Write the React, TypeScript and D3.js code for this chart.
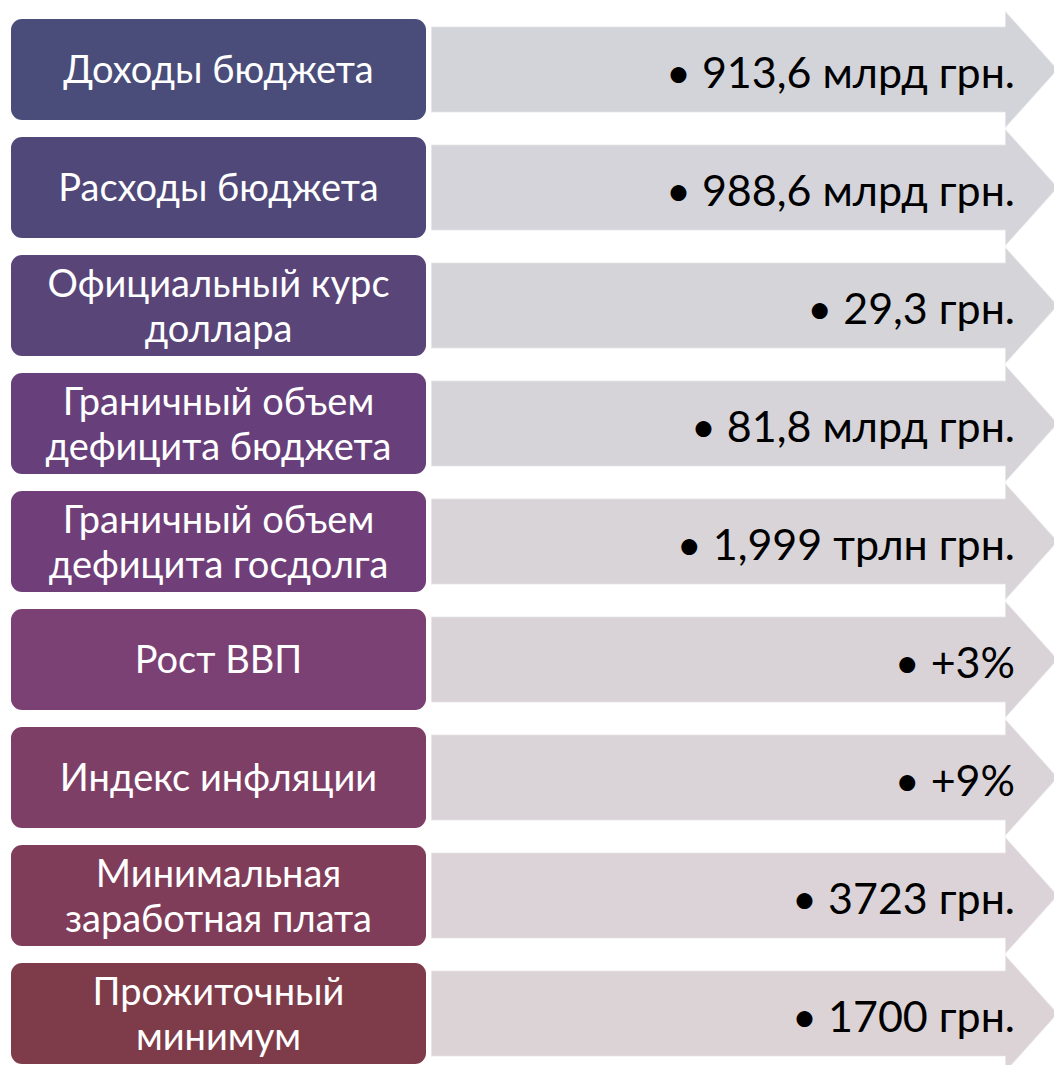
import React from "react";
import * as d3 from "d3";

const labels: string[][] = [
  ["Доходы бюджета"],
  ["Расходы бюджета"],
  ["Официальный курс", "доллара"],
  ["Граничный объем", "дефицита бюджета"],
  ["Граничный объем", "дефицита госдолга"],
  ["Рост ВВП"],
  ["Индекс инфляции"],
  ["Минимальная", "заработная плата"],
  ["Прожиточный", "минимум"],
];

const values: string[] = [
  "913,6 млрд грн.",
  "988,6 млрд грн.",
  "29,3 грн.",
  "81,8 млрд грн.",
  "1,999 трлн грн.",
  "+3%",
  "+9%",
  "3723 грн.",
  "1700 грн.",
];

const boxColors = [
  "#4a4d7a",
  "#4f4878",
  "#5a4579",
  "#67407b",
  "#703f79",
  "#7b4074",
  "#7e3f67",
  "#7f3d5a",
  "#7e3c4b",
];

const W = 1054;
const H = 1065;

export default function App() {
  const ids = labels.map((_, i) => String(i));
  const y = d3
    .scaleBand<string>()
    .domain(ids)
    .range([19, 1064])
    .paddingInner(17 / 118)
    .paddingOuter(0);
  const bw = y.bandwidth();
  const arrowColor = d3.interpolateRgb("#d3d4da", "#dcd3d6");

  const boxX0 = 11;
  const boxX1 = 426;
  const bodyX0 = 431;
  const headX = 1005;
  const tipX = 1058;
  const bodyHalf = 43;
  const headHalf = 59;

  return (
    <svg
      width={W}
      height={H}
      style={{ position: "absolute", left: 0, top: 0, background: "#fff" }}
      fontFamily="Lato, 'Open Sans', sans-serif"
    >
      {ids.map((id, i) => {
        const cy = (y(id) as number) + bw / 2;
        const path = d3.path();
        path.moveTo(bodyX0, cy - bodyHalf);
        path.lineTo(headX, cy - bodyHalf);
        path.lineTo(headX, cy - headHalf);
        path.lineTo(tipX, cy);
        path.lineTo(headX, cy + headHalf);
        path.lineTo(headX, cy + bodyHalf);
        path.lineTo(bodyX0, cy + bodyHalf);
        path.closePath();
        return (
          <path
            key={"a" + id}
            d={path.toString()}
            fill={arrowColor(i / (ids.length - 1))}
            stroke="rgba(255,255,255,0.55)"
            strokeWidth={1.5}
          />
        );
      })}
      {ids.map((id, i) => {
        const top = y(id) as number;
        const cy = top + bw / 2;
        const lines = labels[i];
        const lh = 45;
        const base = lines.length === 1 ? cy + 13.5 : cy - 8.5;
        return (
          <g key={"b" + id}>
            <rect
              x={boxX0}
              y={top}
              width={boxX1 - boxX0}
              height={bw}
              rx={11}
              ry={11}
              fill={boxColors[i]}
            />
            {lines.map((ln, j) => (
              <text
                key={j}
                x={(boxX0 + boxX1) / 2}
                y={base + j * lh}
                textAnchor="middle"
                fill="#ffffff"
                fontSize={38}
              >
                {ln}
              </text>
            ))}
            <text
              x={1015}
              y={cy + 18}
              textAnchor="end"
              fill="#000000"
              fontSize={43}
            >
              {"• " + values[i]}
            </text>
          </g>
        );
      })}
    </svg>
  );
}
